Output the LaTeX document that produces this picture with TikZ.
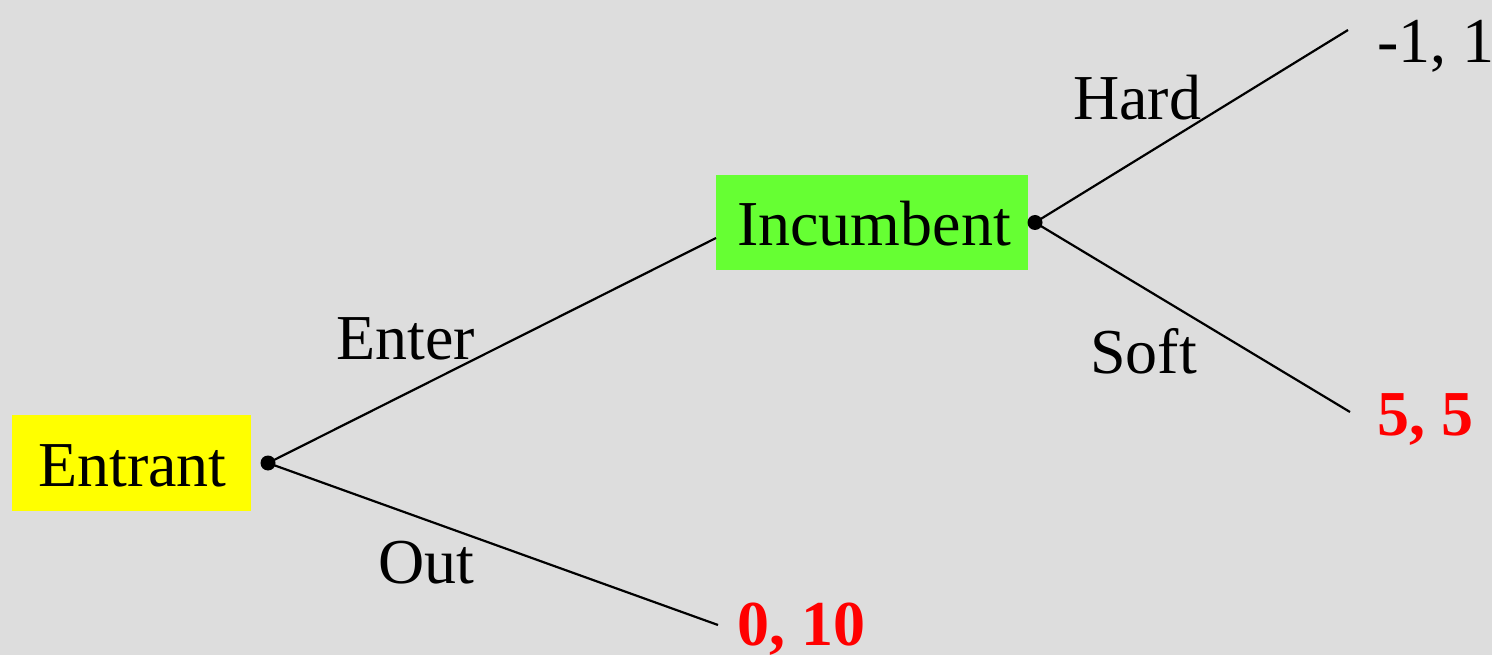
\documentclass[tikz,border=0pt]{standalone}
\usepackage{fontspec}
\setmainfont{Liberation Serif}
\definecolor{bg}{HTML}{DDDDDD}
\definecolor{entcol}{HTML}{FFFF00}
\definecolor{inccol}{HTML}{66FF33}
\definecolor{payred}{HTML}{FF0000}
\begin{document}
\begin{tikzpicture}[x=1pt,y=-1pt,
  every node/.style={font=\fontsize{64}{70}\selectfont},
  player/.style={inner sep=0pt, text=black},
  lbl/.style={inner sep=0pt, anchor=base west},
  pay/.style={inner sep=0pt, anchor=base west, text=payred, font=\fontsize{64}{70}\selectfont\bfseries},
  edge/.style={line width=2.2pt, black},
  decdot/.style={black}]
\fill[bg] (0,0) rectangle (1492,655);
\useasboundingbox (0,0) rectangle (1492,655);
% player boxes
\node[player, fill=entcol, minimum width=239pt, minimum height=96pt] (ent) at (131.5,463) {};
\node[lbl] (entt) at (38,486) {Entrant};
\node[player, fill=inccol, minimum width=312pt, minimum height=95pt] (inc) at (872,222.5) {};
\node[lbl] (inct) at (737,246) {Incumbent};
% free ends
\coordinate (encEnd) at (716,238);
\coordinate (outEnd) at (718,625);
\coordinate (hardEnd) at (1348,30);
\coordinate (softEnd) at (1350,412);
% decision points
\coordinate (d1) at (268,463);
\coordinate (d2) at (1035,222.5);
\draw[edge] (d1) -- (encEnd);
\draw[edge] (d1) -- (outEnd);
\draw[edge] (d2) -- (hardEnd);
\draw[edge] (d2) -- (softEnd);
\fill[decdot] (d1) circle[radius=7.5];
\fill[decdot] (d2) circle[radius=7.5];
% action labels
\node[lbl] (enter) at (336,359) {Enter};
\node[lbl] (out) at (378,583) {Out};
\node[lbl] (hard) at (1073,120) {Hard};
\node[lbl] (soft) at (1090,373) {Soft};
% payoffs
\node[lbl] (p1) at (1377,63) {-1, 1};
\node[pay] (p2) at (1377,435) {5, 5};
\node[pay] (p3) at (737,645) {0, 10};
\end{tikzpicture}
\end{document}
